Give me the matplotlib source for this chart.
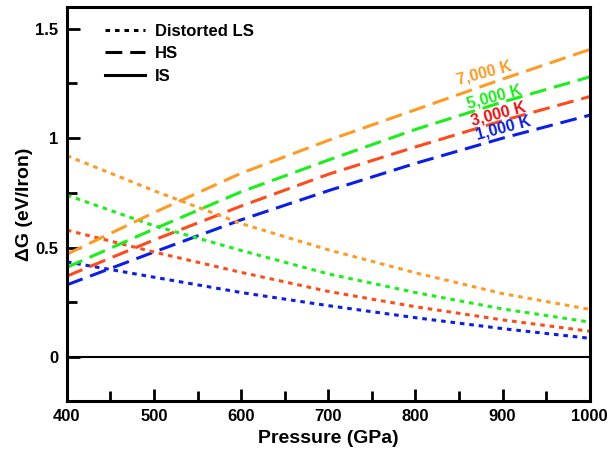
import matplotlib
matplotlib.use("Agg")
import matplotlib.pyplot as plt
from matplotlib.ticker import MultipleLocator

plt.rcParams['font.family'] = ['Liberation Sans', 'DejaVu Sans']
plt.rcParams['font.weight'] = 'bold'

pressure = [400, 500, 600, 700, 800, 900, 1000]

# HS (dashed), eV/iron
hs_1000 = [0.33, 0.48, 0.627, 0.76, 0.885, 1.0, 1.105]
hs_3000 = [0.37, 0.535, 0.69, 0.835, 0.96, 1.08, 1.19]
hs_5000 = [0.41, 0.585, 0.755, 0.90, 1.04, 1.165, 1.28]
hs_7000 = [0.47, 0.66, 0.84, 0.99, 1.13, 1.27, 1.405]

# distorted LS (dotted)
ls_1000 = [0.435, 0.365, 0.295, 0.235, 0.18, 0.13, 0.086]
ls_3000 = [0.58, 0.48, 0.387, 0.30, 0.23, 0.17, 0.118]
ls_5000 = [0.74, 0.60, 0.487, 0.38, 0.295, 0.22, 0.16]
ls_7000 = [0.92, 0.76, 0.61, 0.49, 0.385, 0.29, 0.218]

# IS reference
is_ref = [0, 0, 0, 0, 0, 0, 0]

temps = ['1,000 K', '3,000 K', '5,000 K', '7,000 K']
line_colors = ['#0a1eea', '#ff4a1a', '#1aef1a', '#ff9a22']
label_colors = ['#0a1eea', '#f01010', '#1aef1a', '#ff9a22']
label_pos = [(901, 1.045), (895, 1.11), (890, 1.19), (879, 1.30)]

hs_all = [hs_1000, hs_3000, hs_5000, hs_7000]
ls_all = [ls_1000, ls_3000, ls_5000, ls_7000]

dash = (0, (5.5, 2.6))
dot = (0, (1.5, 1.6))
lw = 2.2

fig = plt.figure(figsize=(6.08, 4.53), dpi=100)
ax = fig.add_axes([0.110, 0.115, 0.860, 0.870])

for hs, ls, c in zip(hs_all, ls_all, line_colors):
    ax.plot(pressure, hs, color=c, lw=lw, linestyle=dash)
    ax.plot(pressure, ls, color=c, lw=lw, linestyle=dot)
ax.plot(pressure, is_ref, color='black', lw=1.5)

for t, (px, py), c in zip(temps, label_pos, label_colors):
    ax.text(px, py, t, color=c, fontsize=11.5, fontweight='bold',
            rotation=15, ha='center', va='center')

# legend handles
h1, = ax.plot([], [], color='black', lw=lw, linestyle=dot)
h2, = ax.plot([], [], color='black', lw=lw, linestyle=dash)
h3, = ax.plot([], [], color='black', lw=lw)
ax.legend([h1, h2, h3], ['Distorted LS', 'HS', 'IS'], loc='upper left',
          frameon=False, fontsize=12, handlelength=2.35, handletextpad=0.6,
          labelspacing=0.45, bbox_to_anchor=(0.045, 0.995), borderaxespad=0.5)

ax.set_xlim(400, 1000)
ax.set_ylim(-0.2, 1.6)
ax.xaxis.set_major_locator(MultipleLocator(100))
ax.xaxis.set_minor_locator(MultipleLocator(50))
ax.set_yticks([0, 0.5, 1, 1.5])
ax.set_yticklabels(['0', '0.5', '1', '1.5'])
ax.yaxis.set_minor_locator(MultipleLocator(0.25))
ax.tick_params(which='both', direction='in', width=2, labelsize=12, top=False, right=False)
ax.tick_params(which='major', length=9, pad=6)
ax.tick_params(which='minor', length=7)
for s in ax.spines.values():
    s.set_linewidth(2.2)

ax.set_xlabel('Pressure (GPa)', fontsize=14, fontweight='bold', labelpad=4)
ax.set_ylabel('ΔG (eV/Iron)', fontsize=14, fontweight='bold', labelpad=2)

fig.savefig('out.png', dpi=100)
